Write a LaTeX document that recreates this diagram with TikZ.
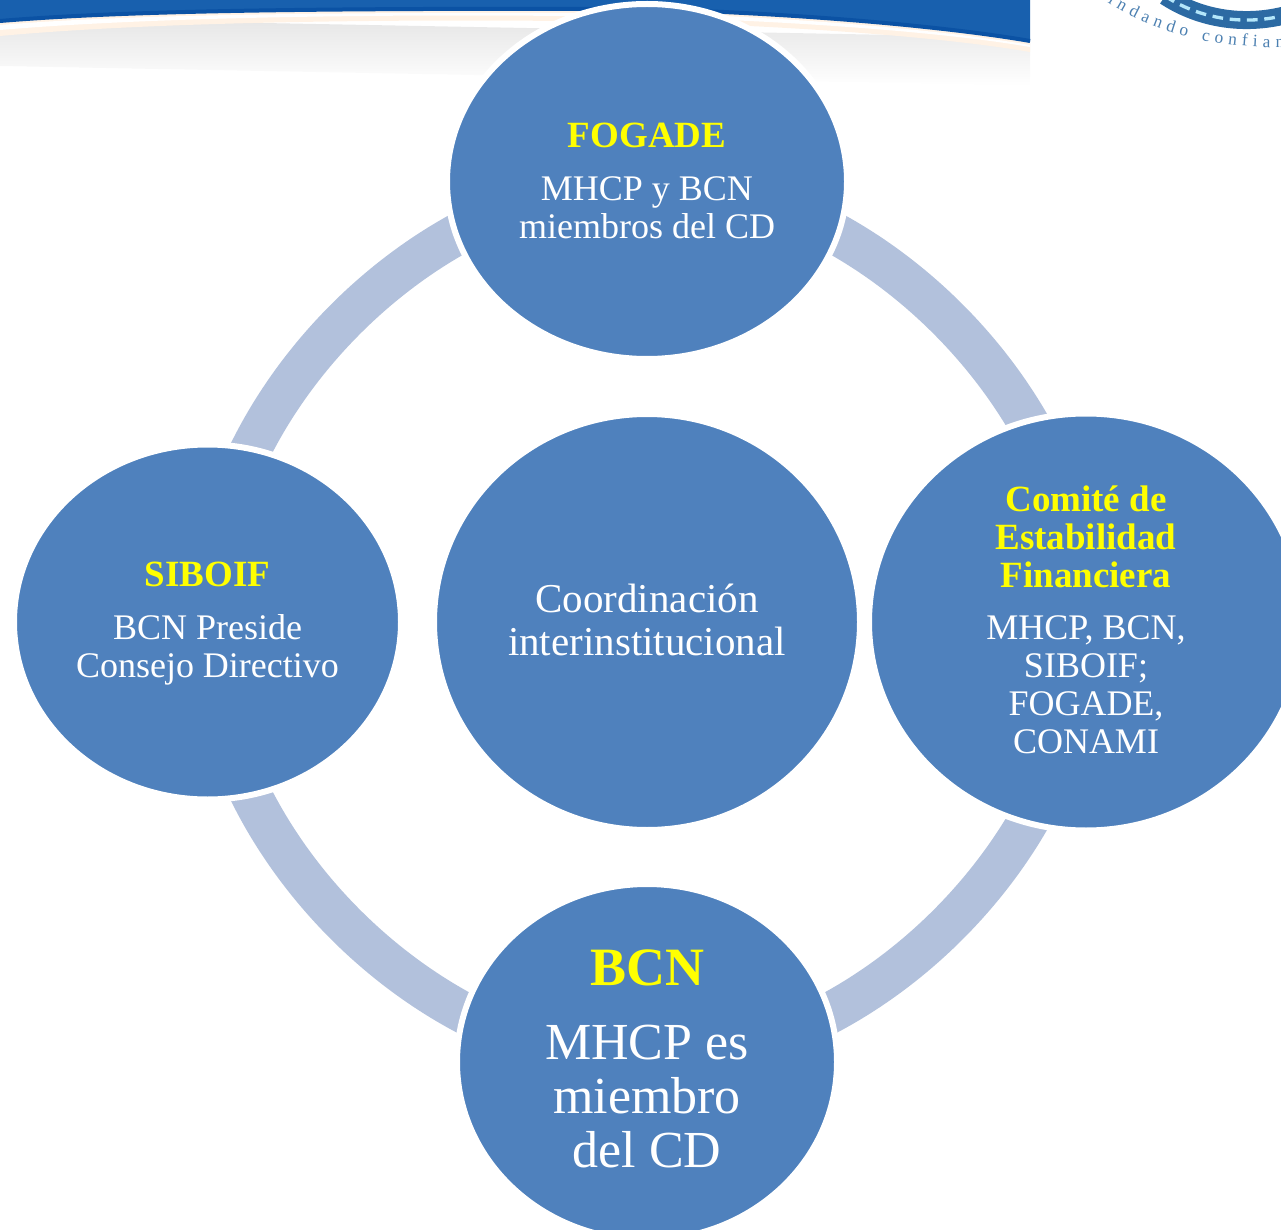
\documentclass[tikz,border=0pt]{standalone}
\usepackage{fontspec}
\setmainfont{Liberation Serif}
\usetikzlibrary{shapes.geometric,backgrounds,decorations.text}
\definecolor{bubble}{RGB}{79,129,189}
\definecolor{ringc}{RGB}{178,193,220}
\definecolor{bandblue}{RGB}{24,96,174}
\definecolor{banddark}{RGB}{11,82,164}
\definecolor{sealblue}{RGB}{44,106,163}
\definecolor{headyellow}{RGB}{255,255,0}
\newcommand{\hd}[1]{{\fontsize{27.75pt}{28.5pt}\selectfont\bfseries\color{headyellow}#1}}
\tikzset{
  x=0.75pt,y=-0.75pt,
  bub/.style={ellipse,fill=bubble,draw=white,line width=4.5pt,outer sep=0pt,inner sep=0pt},
  txt/.style={inner sep=0pt,text=white,align=center,font=\fontsize{27pt}{28.5pt}\selectfont},
  ringarc/.style={draw=ringc,line width=31pt,line cap=butt}
}
\begin{document}
\begin{tikzpicture}
\path[use as bounding box,clip] (0,0) rectangle (1281,1230);
% nodes
\node[bub,minimum width=300pt,minimum height=266.25pt] (fogade) at (647,181.5) {};
\node[bub,minimum width=325.5pt,minimum height=312.75pt] (cef) at (1086,622) {};
\node[bub,minimum width=319.5pt,minimum height=312pt] (centro) at (647,622) {};
\node[bub,minimum width=290.25pt,minimum height=266.25pt] (siboif) at (207.5,622) {};
\node[bub,minimum width=285pt,minimum height=267pt] (bcn) at (647,1062) {};
\node[txt] (fogadetext) at (647,180.5) {\hd{FOGADE}\\[11.25pt]MHCP y BCN\\miembros del CD};
\node[txt] (ceftext) at (1086,620) {\hd{Comité de}\\\hd{Estabilidad}\\\hd{Financiera}\\[10.5pt]MHCP, BCN,\\SIBOIF;\\FOGADE,\\CONAMI};
\node[txt,font=\fontsize{30.75pt}{32.25pt}\selectfont] (centrotext) at (647,619.5) {Coordinación\\interinstitucional};
\node[txt] (siboiftext) at (207.5,624) {\hd{SIBOIF}\\[11.25pt]BCN Preside\\Consejo Directivo};
\node[txt,font=\fontsize{39pt}{40.5pt}\selectfont] (bcntext) at (647,1059)
  {{\fontsize{40.5pt}{40.5pt}\selectfont\bfseries\color{headyellow}BCN}\\[15pt]MHCP es\\miembro\\del CD};
\begin{scope}[on background layer]
  % header band: soft shadow, pale strip, blue band
  \begin{scope}[yslant=-0.019]
    \shade[top color=black!10,bottom color=white] (0,18) rectangle (1030,66);
  \end{scope}
  \fill[white!90!orange] (0,22) .. controls (120,12) and (300,9) .. (640,10)
    .. controls (800,14) and (950,28) .. (1030,42) -- (1030,52)
    .. controls (950,38) and (800,26) .. (640,22)
    .. controls (400,18) and (150,22) .. (0,36) -- cycle;
  \fill[white] (0,25) .. controls (120,15) and (300,12) .. (640,13)
    .. controls (800,17) and (950,31) .. (1030,45) -- (1030,47)
    .. controls (950,33) and (800,21) .. (640,17)
    .. controls (400,13) and (150,17) .. (0,30) -- cycle;
  \fill[bandblue] (0,0) -- (1030,0) -- (1030,42)
    .. controls (950,28) and (800,14) .. (640,10)
    .. controls (300,9) and (120,12) .. (0,22) -- cycle;
  \draw[banddark,line width=3pt] (0,21) .. controls (120,11) and (300,8) .. (640,9)
    .. controls (800,13) and (950,27) .. (1030,41);
  % seal
  \draw[sealblue,line width=13.5pt] (1165,-4) .. controls (1195,16) and (1240,28) .. (1290,14);
  \draw[white!70!cyan,line width=2.5pt,dash pattern=on 8pt off 5pt] (1165,-4) .. controls (1195,16) and (1240,28) .. (1290,14);
  \path[postaction={decorate,decoration={text along path,text align={fit to path},
     text={|\fontsize{13pt}{13pt}\selectfont\color{sealblue!85}|Brindando confianza}}}]
     (1085,-14) .. controls (1130,22) and (1190,52) .. (1310,47);
  % ring connectors
  \draw[ringarc] (fogade.center) .. controls +(219,0) and +(0,-219) .. (cef.center);
  \draw[ringarc] (cef.center) .. controls +(0,219) and +(219,0) .. (bcn.center);
  \draw[ringarc] (bcn.center) .. controls +(-219,0) and +(0,219) .. (siboif.center);
  \draw[ringarc] (siboif.center) .. controls +(0,-219) and +(-219,0) .. (fogade.center);
\end{scope}
\end{tikzpicture}
\end{document}
